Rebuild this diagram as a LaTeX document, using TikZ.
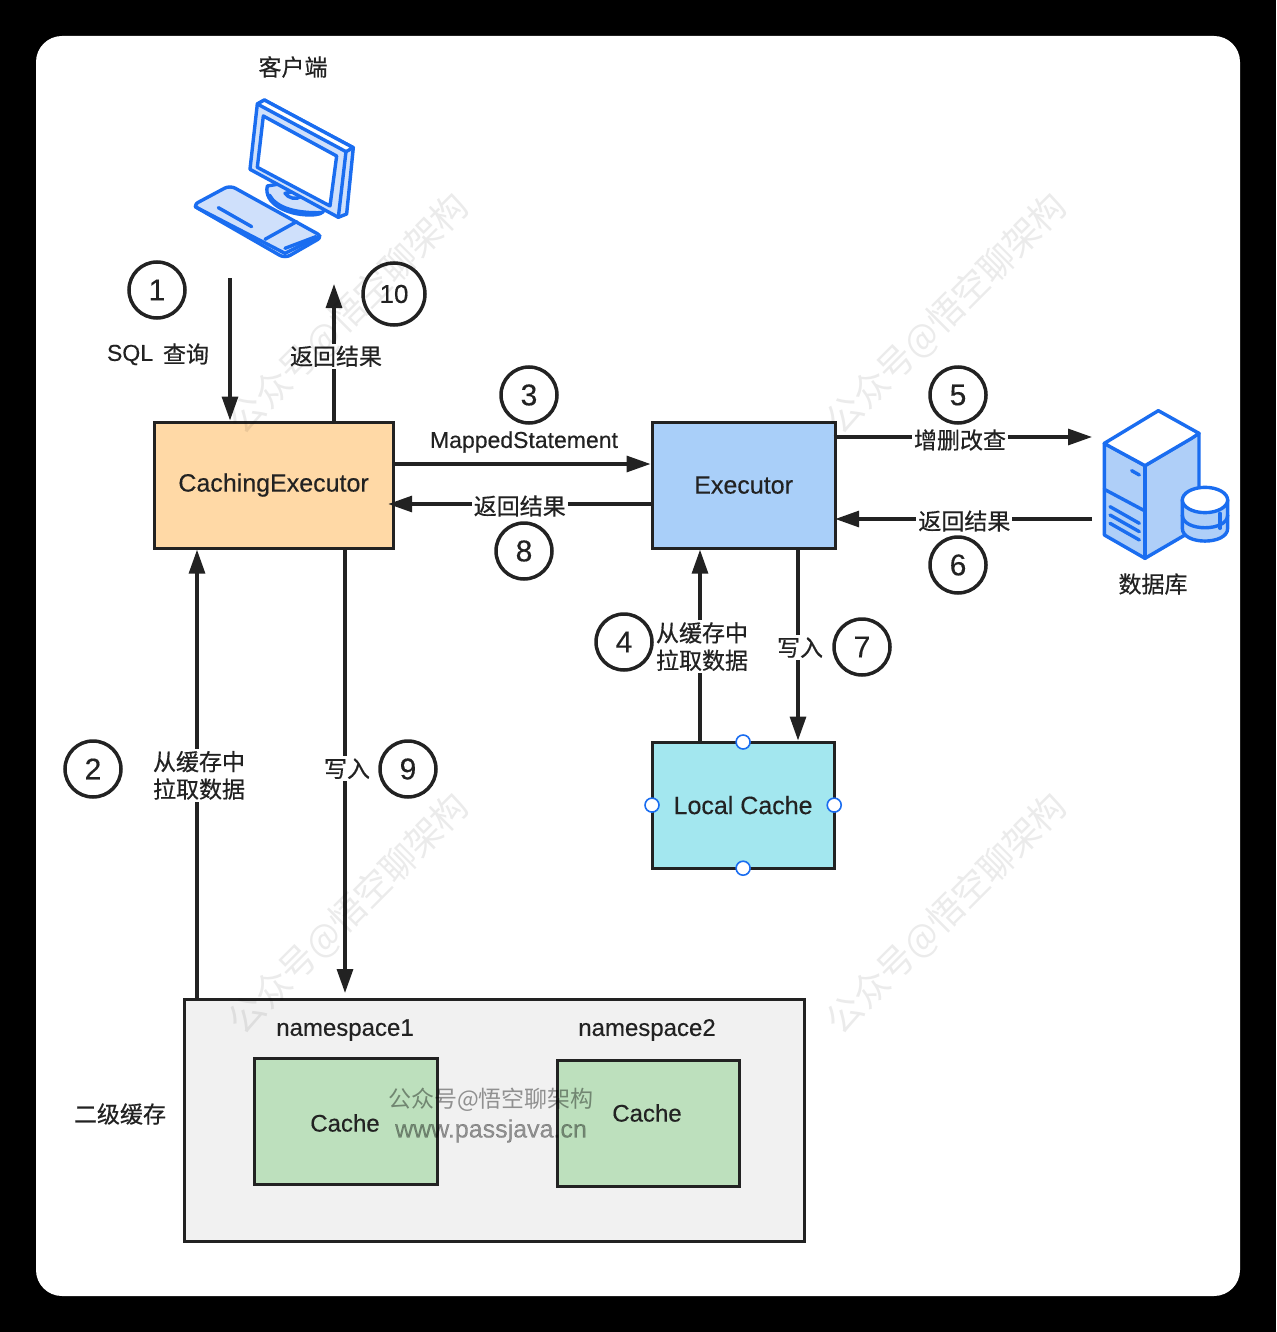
\documentclass[tikz,border=0pt]{standalone}
\usepackage{fontspec}
\setmainfont[FakeBold=0.35]{Liberation Sans}
\newfontfamily\cjk[FakeBold=0.5]{Noto Sans CJK SC}
\newfontfamily\cjklight{Noto Sans CJK SC}
\usetikzlibrary{arrows.meta}
\definecolor{ink}{HTML}{222222}
\definecolor{iconblue}{HTML}{1A6DF0}
\definecolor{iconfill}{HTML}{CFE0FB}
\definecolor{srvfill}{HTML}{AFCFF8}
\definecolor{orangebox}{HTML}{FFD9A6}
\definecolor{bluebox}{HTML}{A9CFF9}
\definecolor{cyanbox}{HTML}{A3E7EF}
\definecolor{greenbox}{HTML}{BDE0BD}
\definecolor{greybox}{HTML}{F1F1F1}
\tikzset{
 x=1pt,y=-1pt,
 txt/.style={text=ink,font=\fontsize{24}{29}\selectfont,inner sep=0pt,align=center},
 big/.style={font=\fontsize{25}{29}\selectfont},
 cn/.style={txt,font=\cjk\fontsize{23}{27.5}\selectfont},
 cnline/.style={cn,fill=white,inner sep=2pt},
 boxn/.style={draw=ink,line width=3.2pt,anchor=north west,txt,inner sep=0pt},
 num/.style={draw=ink,line width=3.5pt,circle,fill=white,inner sep=0pt,text=ink,font=\fontsize{30}{30}\selectfont},
 flow/.style={draw=ink,line width=3.2pt,-{Triangle[length=24pt,width=16pt]}},
 handle/.style={circle,draw=iconblue,fill=white,line width=1.6pt,minimum size=14pt,inner sep=0pt},
 ic/.style={draw=iconblue,line width=3.4pt,line join=round,line cap=round},
 wm/.style={text=black,opacity=0.08,font=\cjklight\fontsize{36}{36}\selectfont,rotate=45,inner sep=0pt},
 wmb/.style={text=black,opacity=0.4,font=\cjklight\fontsize{23}{29}\selectfont,inner sep=0pt},
}
\begin{document}
\begin{tikzpicture}
\useasboundingbox (0,0) rectangle (1276,1332);
\fill[black] (0,0) rectangle (1276,1332);
\fill[white,rounded corners=26pt] (36,36) rectangle (1240,1296);

% boxes
\node[boxn,big,fill=orangebox,minimum width=239pt,minimum height=126pt] (ce) at (152.5,420.5) {\raisebox{-3pt}{CachingExecutor}};
\node[boxn,big,fill=bluebox,minimum width=183pt,minimum height=126pt] (ex) at (650.5,420.5) {\raisebox{-3pt}{Executor}};
\node[boxn,big,fill=cyanbox,minimum width=182pt,minimum height=126pt] (lc) at (650.5,740.5) {\raisebox{-1pt}{Local Cache}};
\node[boxn,fill=greybox,minimum width=620pt,minimum height=242pt] (l2) at (182.5,997.5) {};
\node[boxn,fill=greenbox,minimum width=183pt,minimum height=126pt] (c1) at (252.5,1056.5) {};
\node[boxn,fill=greenbox,minimum width=182pt,minimum height=126pt] (c2) at (555.5,1058.5) {};
\node[txt] (c1t) at (345,1123) {Cache};
\node[txt] (c2t) at (647,1113) {Cache};
\node[txt] (ns1) at (345,1030) {namespace1};
\node[txt] (ns2) at (647,1030) {namespace2};
\node[cn] (l2t) at (120,1114) {二级缓存};
\node[cn] (client) at (293,67) {客户端};
\node[cn] (dbt) at (1153,584) {数据库};

\node[handle,yshift=-1.5pt] (hn) at (lc.north) {};
\node[handle,yshift=1.5pt] (hs) at (lc.south) {};
\node[handle,xshift=-1.5pt] (he) at (lc.east) {};
\node[handle,xshift=1.5pt] (hw) at (lc.west) {};

% computer
\begin{scope}[shift={(170,80)},x=0.3333pt,y=-0.3333pt]
 % base
 \path[ic,fill=iconfill] (292,318) .. controls (280,370) and (350,405) .. (420,405) .. controls (445,405) and (460,400) .. (462,390) -- (400,300) -- cycle;
 \path[ic] (298,345) .. controls (320,385) and (380,400) .. (455,398);
 \path[ic,fill=iconfill] (345,340) .. controls (355,355) and (380,360) .. (392,350) -- (370,335) -- cycle;
 % monitor
 \path[ic,fill=iconfill] (262,72) -- (283,60) -- (550,203) -- (530,402) -- (505,412) -- (240,268) -- cycle;
 \path[ic,fill=white] (262,72) -- (283,60) -- (550,203) -- (528,215) -- cycle;
 \path[ic] (528,215) -- (505,412);
 \path[ic,fill=white] (280,108) -- (500,228) -- (480,378) -- (262,262) -- cycle;
 % keyboard
 \path[ic,fill=iconfill,rounded corners=6pt] (180,316) -- (68,376) -- (345,535) -- (458,470) -- cycle;
 \path[ic] (75,380) -- (345,520) -- (450,468);
 \path[ic] (380,425) -- (285,478);
 \path[ic] (145,383) -- (245,440);
 \path[ic] (345,505) -- (438,470);
\end{scope}

% server
\begin{scope}[shift={(1090,400)},x=0.3333pt,y=-0.3333pt]
 \path[ic,fill=srvfill] (43,130) -- (165,197) -- (327,100) -- (327,300) -- (285,405) -- (165,475) -- (43,405) -- cycle;
 \path[ic,fill=white] (205,32) -- (43,130) -- (60,140) -- (165,197) -- (305,115) -- (327,100) -- cycle;
 \path[ic] (165,197) -- (165,475);
 \path[ic] (125,212) -- (148,225);
 \path[ic] (43,268) -- (165,333);
 \path[ic] (60,320) -- (148,370);
 \path[ic] (60,345) -- (148,395);
 \path[ic] (60,370) -- (148,420);
 \path[ic,fill=srvfill] (277,300) -- (277,385) .. controls (277,436) and (413,436) .. (413,385) -- (413,300) -- cycle;
 \path[ic,fill=white] (345,300) ellipse[x radius=68,y radius=38];
 \path[ic] (277,345) .. controls (277,396) and (413,396) .. (413,345);
 \path[ic] (390,340) -- (390,385);
\end{scope}

% free ends at the client and the server
\coordinate (pcout) at (230,278);
\coordinate (pcin) at (334,284);
\coordinate (dbin) at (1092,437);
\coordinate (dbout) at (1092,519);

% connectors
\draw[flow] (pcout) -- (ce.north -| pcout);
\draw[flow] (ce.north -| pcin) -- node[cnline,pos=0.471,xshift=2pt] (t10) {返回结果} (pcin);
\draw[flow] (ce.east |- 0,464) -- (ex.west |- 0,464);
\draw[flow,shorten <=-3pt] (ex.east |- dbin) -- node[cnline,pos=0.483,yshift=-3pt] (t5) {增删改查} (dbin);
\draw[flow,shorten >=-1.5pt] (dbout) -- node[cnline,pos=0.5,yshift=-2pt] (t6) {返回结果} (ex.east |- dbout);
\draw[flow,shorten >=-6.5pt] (ex.west |- 0,504) -- node[cnline,pos=0.511,yshift=-2pt] (t8) {返回结果} (ce.east |- 0,504);
\draw[flow] (lc.north -| 700,0) -- node[cnline,pos=0.492,xshift=2pt,align=left] (t4) {从缓存中\\拉取数据} (ex.south -| 700,0);
\draw[flow] (ex.south -| 798,0) -- node[cnline,pos=0.513,xshift=2pt] (t7) {写入} (lc.north -| 798,0);
\draw[flow] (l2.north -| 197,0) -- node[cnline,pos=0.496,xshift=2pt,align=left] (t2) {从缓存中\\拉取数据} (ce.south -| 197,0);
\draw[flow,shorten >=4.5pt] (ce.south -| 345,0) -- node[cnline,pos=0.489,xshift=2pt] (t9) {写入} (l2.north -| 345,0);

\node[txt,font=\fontsize{23}{29}\selectfont] (t3) at (524,442) {MappedStatement};
\node[txt,font=\fontsize{23}{29}\selectfont] (t1a) at (130,355) {SQL};
\node[cn] (t1b) at (186,354) {查询};

% numbers
\foreach \n/\px/\py/\d in {n1/157/290/1,n2/93/769/2,n3/529/395/3,n4/624/642/4,n5/958/395/5,n6/958/565/6,n7/862/647/7,n8/524/551/8,n9/408/769/9}
 \node[num,minimum size=56pt] (\n) at (\px,\py) {\d};
\node[num,minimum size=62pt,font=\fontsize{26}{26}\selectfont] (n10) at (394,294) {10};

% watermarks
\node[wm] (w1) at (349,314) {公众号@悟空聊架构};
\node[wm] (w2) at (947,314) {公众号@悟空聊架构};
\node[wm] (w3) at (349,914) {公众号@悟空聊架构};
\node[wm] (w4) at (947,914) {公众号@悟空聊架构};
\node[wmb] (w5) at (491,1100) {公众号@悟空聊架构};
\node[wmb,font=\fontsize{25}{29}\selectfont] (w6) at (491,1131) {www.passjava.cn};
\end{tikzpicture}
\end{document}
